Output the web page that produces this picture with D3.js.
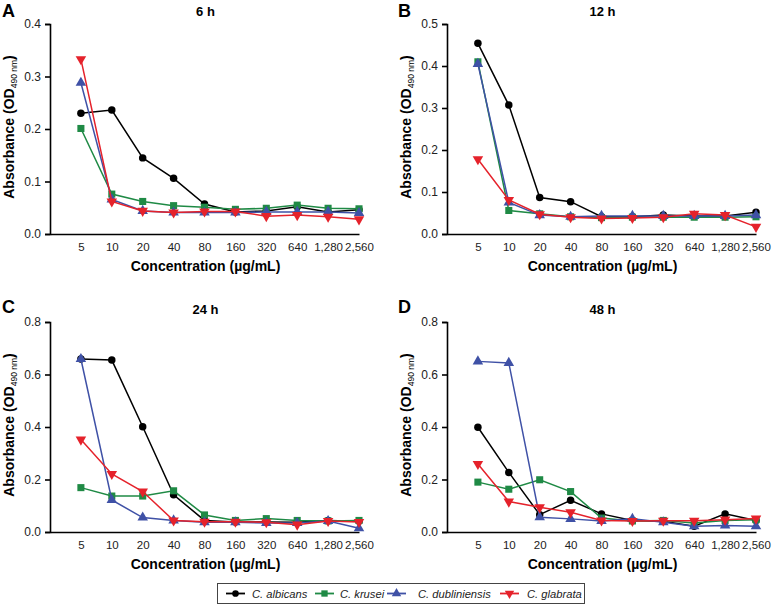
<!DOCTYPE html>
<html>
<head>
<meta charset="utf-8">
<script src="https://cdn.jsdelivr.net/npm/d3@7"></script>
<style>
  html, body { margin: 0; padding: 0; background: #fff; }
  svg { display: block; font-family: "Liberation Sans", Arial, sans-serif; }
</style>
</head>
<body>
<svg id="chart" width="774" height="610"></svg>
<script>
// ---- Data ----
const concentrations = ["5", "10", "20", "40", "80", "160", "320", "640", "1,280", "2,560"];
const species = ["C. albicans", "C. krusei", "C. dubliniensis", "C. glabrata"];
const panelLetters = ["A", "B", "C", "D"];
const panelTitles = ["6 h", "12 h", "24 h", "48 h"];
const yMaxes = [0.4, 0.5, 0.8, 0.8];
const yTickSteps = [0.1, 0.1, 0.2, 0.2];

// 6 h
const albicans6h     = [0.230, 0.236, 0.145, 0.106, 0.057, 0.042, 0.044, 0.052, 0.042, 0.046];
const krusei6h       = [0.201, 0.076, 0.062, 0.054, 0.051, 0.047, 0.049, 0.055, 0.049, 0.048];
const dubliniensis6h = [0.288, 0.066, 0.044, 0.041, 0.041, 0.041, 0.042, 0.042, 0.042, 0.040];
const glabrata6h     = [0.333, 0.062, 0.044, 0.041, 0.043, 0.043, 0.034, 0.036, 0.033, 0.028];
// 12 h
const albicans12h     = [0.454, 0.307, 0.087, 0.077, 0.041, 0.041, 0.045, 0.043, 0.043, 0.052];
const krusei12h       = [0.410, 0.056, 0.048, 0.041, 0.039, 0.040, 0.040, 0.040, 0.040, 0.041];
const dubliniensis12h = [0.405, 0.075, 0.045, 0.041, 0.043, 0.043, 0.043, 0.043, 0.043, 0.045];
const glabrata12h     = [0.178, 0.081, 0.047, 0.040, 0.037, 0.038, 0.040, 0.048, 0.045, 0.017];
// 24 h
const albicans24h     = [0.659, 0.655, 0.401, 0.142, 0.044, 0.038, 0.038, 0.037, 0.044, 0.041];
const krusei24h       = [0.169, 0.137, 0.137, 0.157, 0.065, 0.044, 0.051, 0.044, 0.042, 0.044];
const dubliniensis24h = [0.659, 0.122, 0.055, 0.044, 0.037, 0.037, 0.034, 0.034, 0.042, 0.014];
const glabrata24h     = [0.352, 0.221, 0.154, 0.044, 0.039, 0.039, 0.037, 0.028, 0.042, 0.038];
// 48 h
const albicans48h     = [0.399, 0.227, 0.066, 0.121, 0.069, 0.044, 0.041, 0.022, 0.069, 0.044];
const krusei48h       = [0.190, 0.163, 0.199, 0.154, 0.053, 0.042, 0.044, 0.034, 0.044, 0.047];
const dubliniensis48h = [0.650, 0.644, 0.056, 0.050, 0.042, 0.050, 0.037, 0.022, 0.025, 0.022];
const glabrata48h     = [0.259, 0.116, 0.094, 0.075, 0.044, 0.042, 0.043, 0.043, 0.047, 0.051];

const panelSeries = [
  [albicans6h, krusei6h, dubliniensis6h, glabrata6h],
  [albicans12h, krusei12h, dubliniensis12h, glabrata12h],
  [albicans24h, krusei24h, dubliniensis24h, glabrata24h],
  [albicans48h, krusei48h, dubliniensis48h, glabrata48h]
];

// ---- Styles ----
const colors = ["#000000", "#1f8a45", "#3f51a6", "#e5222b"];
const symbols = [d3.symbolCircle, d3.symbolSquare, d3.symbolTriangle, d3.symbolTriangle];
const symbolSizes = [44, 50, 48, 48];
const symbolRot = [0, 0, 0, 180];

const svg = d3.select("#chart");

const layouts = [
  { ax: 50,  top: 24,  bottom: 234, lx: 2,   ly: 17 },
  { ax: 447, top: 24,  bottom: 234, lx: 398, ly: 17 },
  { ax: 50,  top: 322, bottom: 532, lx: 2,   ly: 313 },
  { ax: 447, top: 322, bottom: 532, lx: 398, ly: 313 }
];
const axisLen = 309;

function fmt(v) { return d3.format(".1f")(v); }

panelSeries.forEach((seriesList, p) => {
  const L = layouts[p];
  const g = svg.append("g");
  const x = d3.scaleLinear().domain([-1, concentrations.length - 1]).range([L.ax, L.ax + axisLen]);
  const y = d3.scaleLinear().domain([0, yMaxes[p]]).range([L.bottom, L.top]);

  const ticks = d3.range(0, yMaxes[p] + 1e-9, yTickSteps[p]);
  const yAxis = d3.axisLeft(y).tickValues(ticks).tickFormat(fmt).tickSizeOuter(0).tickSize(5).tickPadding(4);
  const yg = g.append("g").attr("transform", `translate(${L.ax},0)`).call(yAxis);
  yg.select(".domain").attr("stroke", "#000").attr("stroke-width", 1.6);
  yg.selectAll(".tick line").attr("stroke", "#000").attr("stroke-width", 1.6);
  yg.selectAll(".tick text").attr("font-size", 12).attr("fill", "#222").attr("font-family", "Liberation Sans, Arial, sans-serif");

  const xAxis = d3.axisBottom(x).tickValues(d3.range(concentrations.length))
      .tickFormat(i => concentrations[i]).tickSize(0).tickSizeOuter(0).tickPadding(9);
  const xg = g.append("g").attr("transform", `translate(0,${L.bottom})`).call(xAxis);
  xg.select(".domain").attr("stroke", "#000").attr("stroke-width", 1.6);
  xg.selectAll(".tick text").attr("font-size", 11.5).attr("fill", "#222").attr("font-family", "Liberation Sans, Arial, sans-serif");

  g.append("text").attr("x", L.ax + axisLen / 2 + 1).attr("y", L.top - 8)
    .attr("text-anchor", "middle").attr("font-weight", "bold").attr("font-size", 13)
    .text(panelTitles[p]);

  g.append("text").attr("x", L.lx).attr("y", L.ly)
    .attr("font-weight", "bold").attr("font-size", 18).text(panelLetters[p]);

  g.append("text").attr("x", L.ax + axisLen / 2 + 1).attr("y", L.bottom + 37)
    .attr("text-anchor", "middle").attr("font-weight", "bold").attr("font-size", 14)
    .text("Concentration (µg/mL)");

  const yt = g.append("text")
    .attr("transform", `translate(${L.ax - 36},${(L.top + L.bottom) / 2 - 2}) rotate(-90)`)
    .attr("text-anchor", "middle").attr("font-weight", "bold").attr("font-size", 14);
  yt.append("tspan").text("Absorbance (OD");
  yt.append("tspan").attr("font-size", 8.5).attr("font-weight", "normal").attr("dy", 3).text("490 nm");
  yt.append("tspan").attr("dy", -3).text(")");

  const line = d3.line().x((d, i) => x(i)).y(d => y(d));
  seriesList.forEach((vals, s) => {
    g.append("path").datum(vals).attr("d", line)
      .attr("fill", "none").attr("stroke", colors[s]).attr("stroke-width", 1.5);
    const sym = d3.symbol().type(symbols[s]).size(symbolSizes[s]);
    g.selectAll(null).data(vals).enter().append("path")
      .attr("d", sym)
      .attr("transform", (d, i) => `translate(${x(i)},${y(d)}) rotate(${symbolRot[s]})`)
      .attr("fill", colors[s]);
  });
});

// ---- Legend ----
const lg = svg.append("g");
lg.append("rect").attr("x", 217.5).attr("y", 583.5).attr("width", 367).attr("height", 20)
  .attr("fill", "#fff").attr("stroke", "#444").attr("stroke-width", 1);
const legendLineX = [226, 315, 387, 500];
const legendTextX = [252, 340, 418, 527];
species.forEach((name, s) => {
  const lx = legendLineX[s];
  lg.append("line").attr("x1", lx).attr("x2", lx + 19).attr("y1", 593.5).attr("y2", 593.5)
    .attr("stroke", colors[s]).attr("stroke-width", 1.8);
  lg.append("path").attr("d", d3.symbol().type(symbols[s]).size(symbolSizes[s] * 0.8)())
    .attr("transform", `translate(${lx + 9.5},593.5) rotate(${symbolRot[s]})`)
    .attr("fill", colors[s]);
  lg.append("text").attr("x", legendTextX[s]).attr("y", 597.5).attr("font-size", 11.2)
    .attr("font-style", "italic").attr("fill", "#222").text(name);
});
</script>
</body>
</html>
